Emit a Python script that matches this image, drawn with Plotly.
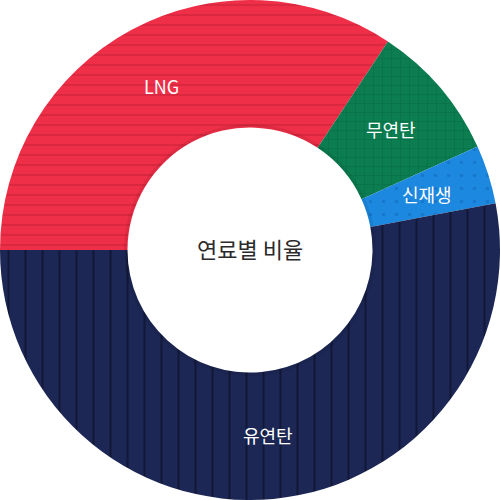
import math
import plotly.graph_objects as go

# 연료별 발전 비율 (%)
labels = ["LNG", "무연탄", "신재생", "유연탄"]
values = [34.3, 8.9, 3.8, 53.0]

colors = ["#EF2F48", "#0B7D50", "#1C88DF", "#1C2755"]
pattern_colors = ["#C42236", "#05603B", "#1266BA", "#070B1C"]
pattern_shapes = ["-", "+", ".", "|"]
pattern_sizes = [10, 9, 13, 17]
pattern_solidity = [0.2, 0.15, 0.06, 0.13]

HOLE = 0.49
START = 180  # 9시 방향에서 시계방향으로

fig = go.Figure(go.Pie(
    labels=labels,
    values=values,
    hole=HOLE,
    sort=False,
    direction="clockwise",
    rotation=270,
    marker=dict(
        colors=colors,
        line=dict(width=0),
        pattern=dict(shape=pattern_shapes, fgcolor=pattern_colors,
                     size=pattern_sizes, solidity=pattern_solidity,
                     fillmode="overlay"),
    ),
    textinfo="none",
    showlegend=False,
    hoverinfo="label+percent",
))

# 조각 라벨: 각 조각의 가운데 각도에 배치
total = sum(values)
acc = 0
for lab, v in zip(labels, values):
    mid = START - (acc + v / 2) / total * 360
    acc += v
    r = 0.372
    fig.add_annotation(text=lab, x=0.5 + r * math.cos(math.radians(mid)),
                       y=0.5 + r * math.sin(math.radians(mid)),
                       xref="paper", yref="paper", xanchor="center", yanchor="middle",
                       showarrow=False,
                       font=dict(family="Noto Sans CJK KR", size=18, color="white"))

fig.add_annotation(text="연료별 비율", x=0.5, y=0.505, xref="paper", yref="paper",
                   xanchor="center", yanchor="middle", showarrow=False,
                   font=dict(family="Noto Sans CJK KR", size=22, color="#2b2b2b"))

# 안쪽 가장자리 그림자
fig.add_shape(type="circle", xref="paper", yref="paper",
              x0=0.5 - 0.249, x1=0.5 + 0.249, y0=0.5 - 0.249, y1=0.5 + 0.249,
              line=dict(color="rgba(0,0,0,0.07)", width=3))

fig.update_layout(
    width=500, height=500,
    margin=dict(l=0, r=0, t=0, b=0),
    paper_bgcolor="white",
)

# body margin 제거 (창 크기 500x500에 딱 맞게)
fig.write_html("out.html", config={"displayModeBar": False},
               post_script="document.body.style.margin='0';document.body.style.overflow='hidden';")
